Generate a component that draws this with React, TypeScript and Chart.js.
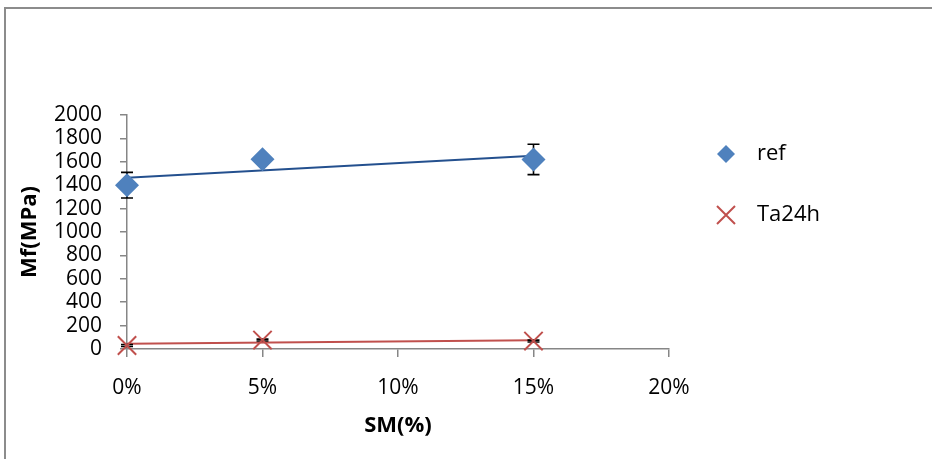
import React, { useEffect, useRef } from 'react';
import { Chart, registerables } from 'chart.js';

Chart.register(...registerables);

// ---- data ----
const xValues = [0, 0.05, 0.15];
const refValues = [1400, 1622, 1620];
const refErrors = [110, 20, 130];
const ta24hValues = [30, 76, 68];
const ta24hErrors = [8, 8, 8];
const seriesNames = ['ref', 'Ta24h'];
const xTicks = [0, 0.05, 0.1, 0.15, 0.2];
const yTicks = [0, 200, 400, 600, 800, 1000, 1200, 1400, 1600, 1800, 2000];
const xTitle = 'SM(%)';
const yTitle = 'Mf(MPa)';

const REF_COLOR = '#4F81BD';
const REF_TREND = '#24508E';
const TA_COLOR = '#C0504D';
const AXIS_COLOR = '#868686';
const FONT = "'Open Sans', 'Liberation Sans', sans-serif";

function linearFit(xs: number[], ys: number[]) {
  const n = xs.length;
  const mx = xs.reduce((a, b) => a + b, 0) / n;
  const my = ys.reduce((a, b) => a + b, 0) / n;
  let sxy = 0;
  let sxx = 0;
  for (let i = 0; i < n; i++) {
    sxy += (xs[i] - mx) * (ys[i] - my);
    sxx += (xs[i] - mx) * (xs[i] - mx);
  }
  const slope = sxy / sxx;
  const intercept = my - slope * mx;
  const x0 = Math.min(...xs);
  const x1 = Math.max(...xs);
  return [
    { x: x0, y: intercept + slope * x0 },
    { x: x1, y: intercept + slope * x1 },
  ];
}

const errorBarPlugin = {
  id: 'errorBars',
  beforeDatasetDraw(chart: any, args: any) {
    const ds = chart.data.datasets[args.index];
    if (!ds.errors) return;
    const { ctx } = chart;
    const x = chart.scales.x;
    const y = chart.scales.y;
    ctx.save();
    ctx.strokeStyle = '#000';
    ctx.lineWidth = 1.6;
    ds.data.forEach((p: any, i: number) => {
      const e = ds.errors[i];
      const px = x.getPixelForValue(p.x);
      const top = y.getPixelForValue(p.y + e);
      const bot = y.getPixelForValue(p.y - e);
      ctx.beginPath();
      ctx.moveTo(px, top);
      ctx.lineTo(px, bot);
      ctx.moveTo(px - 6, top);
      ctx.lineTo(px + 6, top);
      ctx.moveTo(px - 6, bot);
      ctx.lineTo(px + 6, bot);
      ctx.stroke();
    });
    ctx.restore();
  },
};

const legendPlugin = {
  id: 'customLegend',
  afterDraw(chart: any) {
    const { ctx } = chart;
    const items = chart.data.datasets.filter((d: any) => d.inLegend);
    ctx.save();
    items.forEach((ds: any, i: number) => {
      const cx = 726;
      const cy = 154 + i * 61;
      if (ds.pointStyle === 'rectRot') {
        const r = 9;
        ctx.fillStyle = ds.backgroundColor;
        ctx.beginPath();
        ctx.moveTo(cx - r, cy);
        ctx.lineTo(cx, cy - r);
        ctx.lineTo(cx + r, cy);
        ctx.lineTo(cx, cy + r);
        ctx.closePath();
        ctx.fill();
      } else {
        const h = 9;
        ctx.strokeStyle = ds.borderColor;
        ctx.lineWidth = 2;
        ctx.beginPath();
        ctx.moveTo(cx - h, cy - h);
        ctx.lineTo(cx + h, cy + h);
        ctx.moveTo(cx - h, cy + h);
        ctx.lineTo(cx + h, cy - h);
        ctx.stroke();
      }
      ctx.fillStyle = '#000';
      ctx.font = `22px ${FONT}`;
      ctx.textBaseline = 'middle';
      ctx.textAlign = 'left';
      ctx.fillText(ds.label, 757, cy);
    });
    ctx.restore();
  },
};

export default function App() {
  const canvasRef = useRef<HTMLCanvasElement | null>(null);

  useEffect(() => {
    if (!canvasRef.current) return;
    const refPts = xValues.map((x, i) => ({ x, y: refValues[i] }));
    const taPts = xValues.map((x, i) => ({ x, y: ta24hValues[i] }));
    const chart = new Chart(canvasRef.current, {
      type: 'scatter',
      data: {
        datasets: [
          {
            label: seriesNames[0],
            data: refPts,
            pointStyle: 'rectRot',
            pointRadius: 12,
            backgroundColor: REF_COLOR,
            borderColor: REF_COLOR,
            borderWidth: 0,
            clip: false,
            errors: refErrors,
            inLegend: true,
          } as any,
          {
            label: seriesNames[1],
            data: taPts,
            pointStyle: 'crossRot',
            pointRadius: 13,
            backgroundColor: TA_COLOR,
            borderColor: TA_COLOR,
            borderWidth: 2,
            clip: false,
            errors: ta24hErrors,
            inLegend: true,
          } as any,
          {
            label: 'ref trend',
            data: linearFit(xValues, refValues),
            showLine: true,
            pointRadius: 0,
            borderColor: REF_TREND,
            borderWidth: 2,
            clip: false,
          } as any,
          {
            label: 'Ta24h trend',
            data: linearFit(xValues, ta24hValues),
            showLine: true,
            pointRadius: 0,
            borderColor: TA_COLOR,
            borderWidth: 2,
            clip: false,
          } as any,
        ],
      },
      options: {
        responsive: false,
        animation: false,
        events: [],
        layout: { padding: { top: 115, right: 263, left: 0, bottom: 0 } },
        plugins: {
          legend: { display: false },
          tooltip: { enabled: false },
        },
        scales: {
          x: {
            type: 'linear',
            min: 0,
            max: 0.2,
            afterBuildTicks: (s: any) => {
              s.ticks = xTicks.map((v) => ({ value: v }));
            },
            afterFit: (s: any) => {
              s.height = 110;
            },
            ticks: {
              autoSkip: false,
              maxRotation: 0,
              padding: 18,
              color: '#000',
              font: { family: FONT, size: 21 },
              callback: (v: any) => Math.round(Number(v) * 100) + '%',
            },
            grid: { drawOnChartArea: false, drawTicks: true, tickLength: 8, color: AXIS_COLOR, lineWidth: 1.5 },
            border: { color: AXIS_COLOR, width: 1.5 },
            title: {
              display: true,
              text: xTitle,
              color: '#000',
              font: { family: FONT, size: 22, weight: 'bold' },
              padding: { top: 0, bottom: 20 },
            },
          },
          y: {
            type: 'linear',
            min: 0,
            max: 2000,
            afterBuildTicks: (s: any) => {
              s.ticks = yTicks.map((v) => ({ value: v }));
            },
            afterFit: (s: any) => {
              s.width = 127;
            },
            ticks: {
              autoSkip: false,
              padding: 18,
              color: '#000',
              font: { family: FONT, size: 21 },
              callback: (v: any) => String(v),
            },
            grid: { drawOnChartArea: false, drawTicks: true, tickLength: 7, color: AXIS_COLOR, lineWidth: 1.5 },
            border: { color: AXIS_COLOR, width: 1.5 },
            title: {
              display: true,
              text: yTitle,
              color: '#000',
              font: { family: FONT, size: 22, weight: 'bold' },
              padding: { top: 17, bottom: 0 },
            },
          },
        },
      } as any,
      plugins: [errorBarPlugin, legendPlugin],
    });
    return () => chart.destroy();
  }, []);

  return (
    <div style={{ position: 'absolute', left: 0, top: 0, width: 932, height: 459, overflow: 'hidden', background: '#fff' }}>
      <div
        style={{
          position: 'absolute',
          left: 4,
          top: 7,
          width: 1000,
          height: 600,
          borderTop: '2px solid #8c8c8c',
          borderLeft: '2px solid #8c8c8c',
          boxSizing: 'border-box',
        }}
      />
      <canvas
        ref={canvasRef}
        width={932}
        height={459}
        style={{ position: 'absolute', left: 0, top: 0, width: 932, height: 459 }}
      />
    </div>
  );
}
